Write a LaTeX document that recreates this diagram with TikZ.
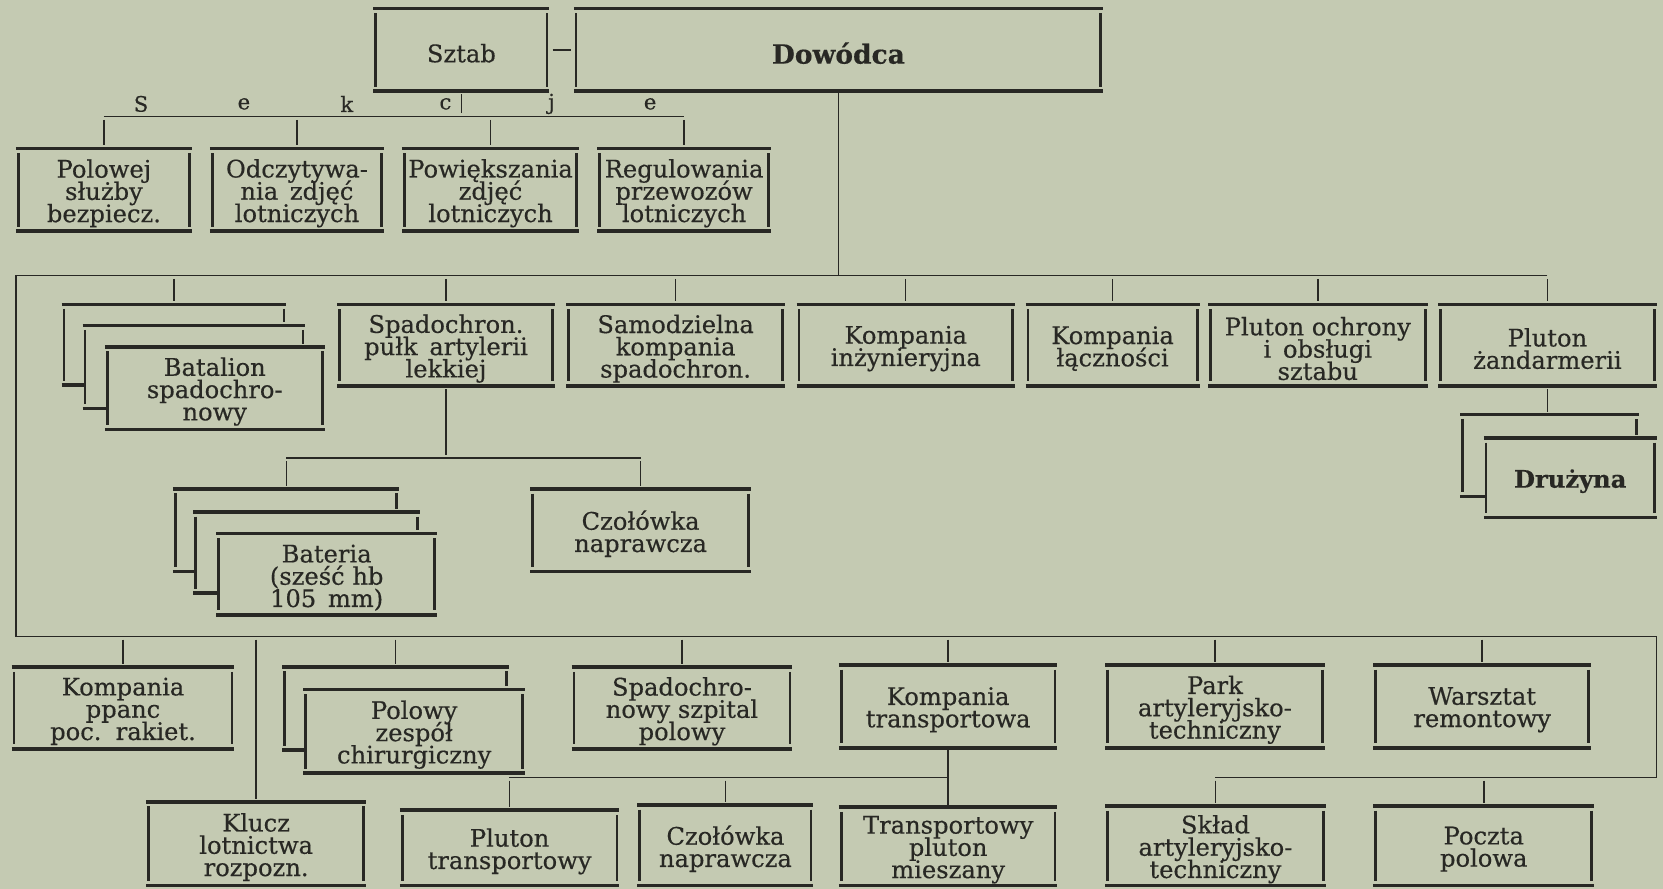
\documentclass[tikz,border=0pt]{standalone}
\usepackage{fontspec}
\setmainfont{DejaVu Serif}[FakeBold=0.4]
\definecolor{paper}{RGB}{196,202,178}
\definecolor{ink}{RGB}{40,40,36}
\newcommand\myboxfont{\fontsize{11.4}{10.5}\selectfont\lineskiplimit=-20pt\relax\lineskip=0pt\relax}
\newcommand\obox[6]{%
  \node[boxframe, minimum width={(#4-#2)*0.5pt}, minimum height={(#5-#3)*0.5pt}]
    (#1) at ({(#2+#4)/2},{(#3+#5)/2}) {};
  \node[boxtext] (#1-t) at ([yshift=-1.6pt]#1.center) {#6};
  \draw[bar] (#2,#3) -- (#4,#3);
  \draw[bar] (#2,#5) -- (#4,#5);
  \draw[side] ({#2+2.2},{#3+4.4}) -- ({#2+2.2},{#5-4.4});
  \draw[side] ({#4-2.2},{#3+4.4}) -- ({#4-2.2},{#5-4.4});
}
\newcommand\backbox[6]{%
  \draw[bar] (#1,#2) -- (#3,#2);
  \draw[side] ({#3-2.2},{#2+4}) -- ({#3-2.2},{#6-3});
  \draw[side] ({#1+2.2},{#2+4}) -- ({#1+2.2},{#4-4});
  \draw[bar] (#1,#4) -- ({#5+2},#4);
}
\begin{document}
\begin{tikzpicture}[x=0.5pt,y=-0.5pt,
  boxframe/.style={inner sep=0pt, outer sep=0pt},
  boxtext/.style={inner sep=0pt, outer sep=0pt, align=center, text=ink,
    font=\myboxfont},
  bar/.style={draw=ink, line width=1.7pt},
  side/.style={draw=ink, line width=1.25pt},
  conn/.style={draw=ink, line width=0.7pt},
  tick/.style={conn, shorten <=1.5pt, shorten >=1.5pt},
  lbl/.style={text=ink, inner sep=0pt, font=\fontsize{10}{10}\selectfont}]
\fill[paper] (0,0) rectangle (1568,838);
\useasboundingbox (0,0) rectangle (1568,838);

% top
\obox{sztab}{352}{8}{518}{86}{Sztab}
\obox{dowodca}{541}{8}{1040}{86}{\fontsize{12.5}{13}\selectfont\bfseries Dowódca}
\draw[tick] (sztab.east) -- (dowodca.west);

\node[lbl] (l1) at (133,98) {S};
\node[lbl] (l2) at (230,98) {e};
\node[lbl] (l3) at (327,98) {k};
\node[lbl] (l4) at (420,98) {c};
\node[lbl] (l5) at (520,98) {j};
\node[lbl] (l6) at (613,98) {e};

\obox{polowej}{15}{140}{181}{218}{Polowej\\służby\\bezpiecz.}
\obox{odczyt}{198}{140}{362}{218}{Odczytywa-\\nia\, zdjęć\\lotniczych}
\obox{powiek}{379}{140}{546}{218}{Powiększania\\zdjęć\\lotniczych}
\obox{regul}{563}{140}{727}{218}{Regulowania\\przewozów\\lotniczych}

\coordinate (secL) at (98,110);
\coordinate (secR) at (645,110);
\draw[conn] (secL) -- (secR);
\draw[tick] (sztab.south) -- (sztab.south |- secL);
\foreach \n in {polowej,odczyt,powiek,regul} \draw[tick] (\n.north |- secL) -- (\n.north);

% row 2
\backbox{58}{287}{270}{363}{78}{307}
\backbox{78}{307}{288}{385}{99}{327}
\coordinate (batB) at (164,287);
\obox{batalion}{99}{327}{306}{405}{Batalion\\spadochro-\\nowy}
\obox{pulk}{318}{287}{523}{364}{Spadochron.\\pułk\, artylerii\\lekkiej}
\obox{samodz}{534}{287}{740}{364}{Samodzielna\\kompania\\spadochron.}
\obox{kinz}{751}{287}{957}{364}{Kompania\\inżynieryjna}
\obox{klacz}{967}{287}{1131}{364}{Kompania\\łączności}
\obox{pochr}{1139}{287}{1346}{364}{Pluton ochrony\\i\, obsługi\\sztabu}
\obox{pzand}{1356}{287}{1562}{364}{Pluton\\żandarmerii}

\coordinate (busAr) at (1459,260);
\coordinate (busAl) at (15,260);
\coordinate (busCl) at (15,600);
\coordinate (busCr) at (1562,600);
\coordinate (busEc) at (1562,733);
\coordinate (busEl) at (1146,733);
\draw[conn] (busAr) -- (busAl) -- (busCl) -- (busCr) -- (busEc) -- (busEl);
\draw[conn] (dowodca.south) -- (dowodca.south |- busAl);
\draw[tick] (batB |- busAl) -- (batB);
\foreach \n in {pulk,samodz,kinz,klacz,pochr,pzand} \draw[tick] (\n.north |- busAl) -- (\n.north);

% Druzyna
\backbox{1377}{391}{1545}{468}{1399}{413}
\coordinate (druzB) at (1459,391);
\obox{druzyna}{1399}{413}{1562}{488}{\bfseries Drużyna}
\draw[tick] (pzand.south) -- (druzB);

% Bateria / Czolowka
\coordinate (busBl) at (270,432);
\coordinate (busBr) at (604,432);
\draw[tick] (pulk.south) -- (pulk.south |- busBl);
\draw[conn] (busBl) -- (busBr);
\backbox{163}{461}{376}{539}{182}{483}
\backbox{182}{483}{396}{559}{204}{503}
\coordinate (batrB) at (270,461);
\obox{bateria}{204}{503}{412}{580}{Bateria\\(sześć hb\\105\, mm)}
\obox{czol1}{500}{461}{708}{539}{Czołówka\\naprawcza}
\draw[tick] (busBl) -- (batrB);
\draw[tick] (czol1.north |- busBl) -- (czol1.north);

% row 3
\obox{kppanc}{11}{629}{221}{706}{Kompania\\ppanc\\poc.\, rakiet.}
\backbox{266}{629}{480}{707}{286}{650}
\coordinate (polB) at (373,629);
\obox{polowy}{286}{650}{495}{729}{Polowy\\zespół\\chirurgiczny}
\obox{szpital}{539}{629}{747}{706}{Spadochro-\\nowy szpital\\polowy}
\obox{ktrans}{791}{627}{997}{705}{Kompania\\transportowa}
\obox{park}{1042}{627}{1249}{705}{Park\\artyleryjsko-\\techniczny}
\obox{warsztat}{1295}{627}{1500}{705}{Warsztat\\remontowy}
\draw[tick] (polB |- busCl) -- (polB);
\foreach \n in {kppanc,szpital,ktrans,park,warsztat} \draw[tick] (\n.north |- busCl) -- (\n.north);

% row 4
\obox{klucz}{138}{756}{345}{835}{Klucz\\lotnictwa\\rozpozn.}
\obox{pltr}{377}{764}{584}{835}{Pluton\\transportowy}
\obox{czol2}{601}{759}{767}{835}{Czołówka\\naprawcza}
\obox{tpm}{791}{761}{997}{835}{Transportowy\\pluton\\mieszany}
\obox{sklad}{1042}{760}{1250}{835}{Skład\\artyleryjsko-\\techniczny}
\obox{poczta}{1295}{760}{1503}{835}{Poczta\\polowa}

\draw[tick] (klucz.north |- busCl) -- (klucz.north);
\coordinate (busDl) at (480,733);
\draw[conn] (ktrans.south) -- (tpm.north);
\draw[conn] (busDl) -- (ktrans.south |- busDl);
\foreach \n in {pltr,czol2} \draw[tick] (\n.north |- busDl) -- (\n.north);
\foreach \n in {sklad,poczta} \draw[tick] (\n.north |- busEl) -- (\n.north);
\end{tikzpicture}
\end{document}
